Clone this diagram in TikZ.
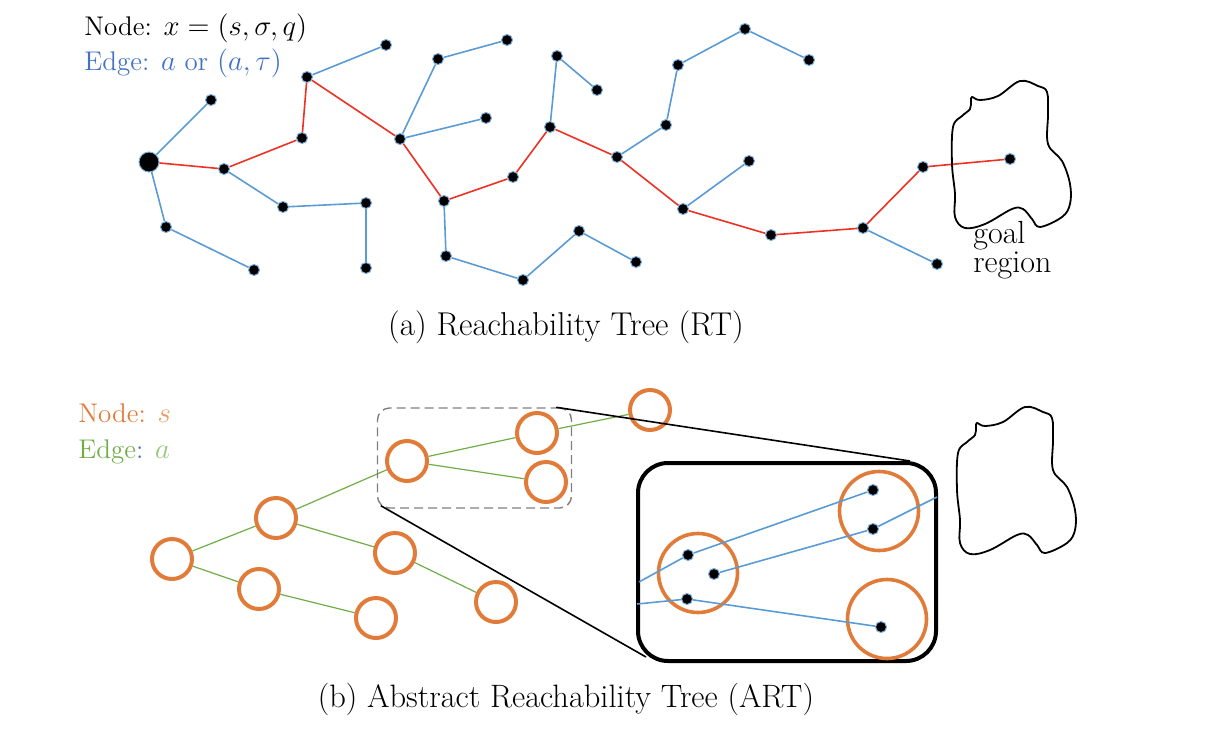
\documentclass[tikz,border=0pt]{standalone}
\usepackage{fontspec}
\definecolor{cRT}{HTML}{5B9BD5}
\definecolor{cPath}{HTML}{EE3124}
\definecolor{cLegBlue}{HTML}{4472C4}
\definecolor{cAbs}{HTML}{E07B39}
\definecolor{cAbsL}{HTML}{EC9A60}
\definecolor{cAct}{HTML}{70AD47}
\definecolor{cActL}{HTML}{95C878}

\begin{document}
\begin{tikzpicture}[
  x=0.5pt, y=-0.5pt,
  dot/.style={circle, fill=black, draw=cRT!80, line width=0.5pt, inner sep=0pt, minimum size=5.5pt},
  root/.style={dot, minimum size=10pt},
  tedge/.style={draw=cRT, line width=0.8pt},
  redge/.style={draw=cPath, line width=0.8pt},
  absstate/.style={circle, draw=cAbs, line width=2pt, inner sep=0pt, minimum size=20pt},
  bigabs/.style={absstate, line width=1.8pt, minimum size=39.5pt},
  aedge/.style={draw=cAct, line width=0.6pt},
  zline/.style={draw=black, line width=0.8pt},
  lbl/.style={font=\fontsize{13.5}{16}\selectfont, anchor=west, inner sep=0pt},
  captext/.style={font=\fontsize{16.5}{19}\selectfont, inner sep=0pt},
  blob/.style={draw=black, line width=0.9pt},
  goalblob/.pic={
    \draw[blob] plot[smooth cycle, tension=0.6] coordinates {
      (0,0) (8,3) (26,-1) (48,-16) (66,-11) (75,-5) (76,17) (76,47)
      (90,64) (98,87) (98,107) (90,120) (68,130) (60,122) (51,112) (40,112)
      (13,127) (-7,131) (-17,120) (-17,97) (-20,67) (-19,30) (-10,19) (-2,12) (-1,4)};
  },
]
\useasboundingbox (0,0) rectangle (1214,728);

% ---- (a) reachability tree ----
\node[lbl] (legN) at (84,28) {Node: $x=(s,\sigma,q)$};
\node[lbl, text=cLegBlue] (legE) at (84,63) {Edge: $a$ or $(a,\tau)$};

\node[root] (r) at (149,162) {};
\node[dot] (a1) at (211,100) {};
\node[dot] (a2) at (224,169) {};
\node[dot] (a3) at (166,227) {};
\node[dot] (a4) at (254,270) {};
\node[dot] (a5) at (302,138) {};
\node[dot] (a6) at (283,207) {};
\node[dot] (a7) at (366,203) {};
\node[dot] (a8) at (366,268) {};
\node[dot] (a9) at (307,77) {};
\node[dot] (a10) at (386,45) {};
\node[dot] (a11) at (400,139) {};
\node[dot] (a12) at (438,59) {};
\node[dot] (a13) at (486,118) {};
\node[dot] (a14) at (444,201) {};
\node[dot] (a15) at (507,40) {};
\node[dot] (a16) at (513,177) {};
\node[dot] (a17) at (446,256) {};
\node[dot] (a18) at (523,280) {};
\node[dot] (a19) at (579,231) {};
\node[dot] (a20) at (636,262) {};
\node[dot] (a21) at (550,127) {};
\node[dot] (a22) at (557,56) {};
\node[dot] (a23) at (597,90) {};
\node[dot] (a24) at (617,157) {};
\node[dot] (a25) at (666,125) {};
\node[dot] (a26) at (678,65) {};
\node[dot] (a27) at (745,29) {};
\node[dot] (a28) at (809,60) {};
\node[dot] (a29) at (683,209) {};
\node[dot] (a30) at (749,161) {};
\node[dot] (a31) at (771,235) {};
\node[dot] (a32) at (863,228) {};
\node[dot] (a33) at (937,264) {};
\node[dot] (a34) at (923,167) {};
\node[dot] (a35) at (1010,159) {};

\draw[tedge] (r) -- (a1) (r) -- (a3) -- (a4) (a2) -- (a6) -- (a7) -- (a8)
  (a9) -- (a10) (a11) -- (a12) -- (a15) (a11) -- (a13)
  (a14) -- (a17) -- (a18) -- (a19) -- (a20) (a21) -- (a22) -- (a23)
  (a24) -- (a25) -- (a26) -- (a27) -- (a28) (a29) -- (a30) (a32) -- (a33);
\draw[redge] (r) -- (a2) -- (a5) -- (a9) -- (a11) -- (a14) -- (a16) -- (a21)
  -- (a24) -- (a29) -- (a31) -- (a32) -- (a34) -- (a35);

\pic (goalA) at (972,97) {goalblob};
\node[captext, font=\fontsize{16}{11}\selectfont, align=left, anchor=north west] (goal)
  at (973,221) {goal\\region};

\node[captext] (capA) at (566,327) {(a) Reachability Tree (RT)};

% ---- (b) abstract reachability tree ----
\node[lbl, text=cAbs] (legS) at (78,413) {Node: \textcolor{cAbsL}{$s$}};
\node[lbl, text=cAct] (legA) at (78,452) {Edge\textcolor{cLegBlue}{:} \textcolor{cActL}{$a$}};

\node[absstate] (s0) at (172,559) {};
\node[absstate] (s1) at (276,518) {};
\node[absstate] (s2) at (259,589) {};
\node[absstate] (s3) at (407,461) {};
\node[absstate] (s4) at (395,553) {};
\node[absstate] (s5) at (376,618) {};
\node[absstate] (s6) at (496,602) {};
\node[absstate] (s7) at (537,433) {};
\node[absstate] (s8) at (546,482) {};
\node[absstate] (s9) at (650,410) {};

\draw[aedge] (s0) -- (s1) (s0) -- (s2) (s1) -- (s3) (s1) -- (s4) (s2) -- (s5)
  (s4) -- (s6) (s3) -- (s7) (s3) -- (s8) (s7) -- (s9);

% zoomed-in view of the dashed part
\node[draw=black!50, dashed, dash pattern=on 4.5pt off 2.5pt, line width=0.7pt, rounded corners=6pt,
      minimum width=97pt, minimum height=50pt] (zsrc) at (474.5,458) {};
\node[draw=black, line width=2pt, rounded corners=15pt,
      minimum width=149pt, minimum height=99pt] (zbox) at (787,562) {};
\draw[zline] ([xshift=-8pt]zsrc.north east) -- ([xshift=-14pt]zbox.north east);
\draw[zline] ([shift={(2pt,1.5pt)}]zsrc.south west) -- ([shift={(5pt,3pt)}]zbox.south west);

\node[bigabs] (bL) at (698,573) {};
\node[bigabs] (bTR) at (879,511) {};
\node[bigabs] (bBR) at (887,619) {};
\node[dot] (d1) at (688,555) {};
\node[dot] (d2) at (714,574) {};
\node[dot] (d3) at (687,599) {};
\node[dot] (d4) at (873,490) {};
\node[dot] (d5) at (873,529) {};
\node[dot] (d6) at (881,627) {};
\coordinate (in1) at (639,582);
\coordinate (in2) at (637,604);
\coordinate (out1) at (937,497);
\draw[tedge] (in1) -- (d1) -- (d4) (d2) -- (d5) -- (out1) (in2) -- (d3) -- (d6);

\pic (goalB) at (977,423) {goalblob};

\node[captext, font=\fontsize{16.2}{19}\selectfont] (capB) at (566,699) {(b) Abstract Reachability Tree (ART)};
\end{tikzpicture}
\end{document}
